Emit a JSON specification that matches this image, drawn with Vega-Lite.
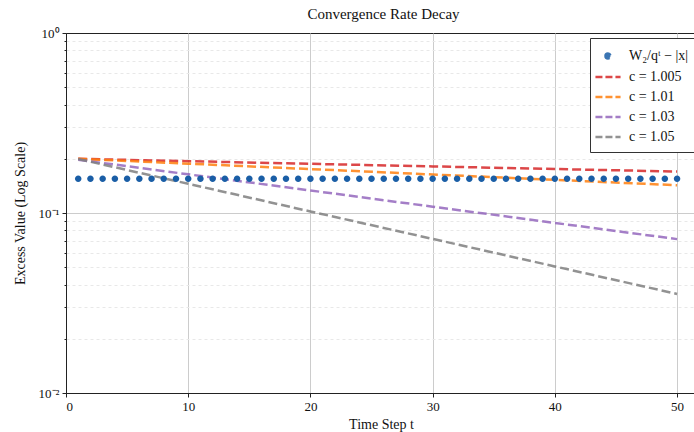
{
  "$schema": "https://vega.github.io/schema/vega-lite/v6.json",
  "width": 641,
  "height": 360,
  "autosize": {"type": "none"},
  "padding": {"left": 66, "top": 33, "right": 0, "bottom": 39},
  "background": "white",
  "title": {"text": "Convergence Rate Decay", "font": "Liberation Serif", "fontSize": 15, "fontWeight": "normal", "color": "#111", "dx": -3, "offset": 5},
  "config": {
    "view": {"stroke": "#222", "strokeWidth": 1},
    "axis": {"labelFont": "Liberation Serif", "titleFont": "Liberation Serif", "labelFontSize": 13, "titleFontSize": 14, "titleFontWeight": "normal", "labelColor": "#111", "titleColor": "#111", "domainColor": "#222", "tickColor": "#222"}
  },
  "datasets": {
    "pts": [
      {"t": 1, "v": 0.155, "s": "W₂/qᵗ − |x|"}, {"t": 2, "v": 0.155, "s": "W₂/qᵗ − |x|"}, {"t": 3, "v": 0.155, "s": "W₂/qᵗ − |x|"}, {"t": 4, "v": 0.155, "s": "W₂/qᵗ − |x|"}, {"t": 5, "v": 0.155, "s": "W₂/qᵗ − |x|"},
      {"t": 6, "v": 0.155, "s": "W₂/qᵗ − |x|"}, {"t": 7, "v": 0.155, "s": "W₂/qᵗ − |x|"}, {"t": 8, "v": 0.155, "s": "W₂/qᵗ − |x|"}, {"t": 9, "v": 0.155, "s": "W₂/qᵗ − |x|"}, {"t": 10, "v": 0.155, "s": "W₂/qᵗ − |x|"},
      {"t": 11, "v": 0.155, "s": "W₂/qᵗ − |x|"}, {"t": 12, "v": 0.155, "s": "W₂/qᵗ − |x|"}, {"t": 13, "v": 0.155, "s": "W₂/qᵗ − |x|"}, {"t": 14, "v": 0.155, "s": "W₂/qᵗ − |x|"}, {"t": 15, "v": 0.155, "s": "W₂/qᵗ − |x|"},
      {"t": 16, "v": 0.155, "s": "W₂/qᵗ − |x|"}, {"t": 17, "v": 0.155, "s": "W₂/qᵗ − |x|"}, {"t": 18, "v": 0.155, "s": "W₂/qᵗ − |x|"}, {"t": 19, "v": 0.155, "s": "W₂/qᵗ − |x|"}, {"t": 20, "v": 0.155, "s": "W₂/qᵗ − |x|"},
      {"t": 21, "v": 0.155, "s": "W₂/qᵗ − |x|"}, {"t": 22, "v": 0.155, "s": "W₂/qᵗ − |x|"}, {"t": 23, "v": 0.155, "s": "W₂/qᵗ − |x|"}, {"t": 24, "v": 0.155, "s": "W₂/qᵗ − |x|"}, {"t": 25, "v": 0.155, "s": "W₂/qᵗ − |x|"},
      {"t": 26, "v": 0.155, "s": "W₂/qᵗ − |x|"}, {"t": 27, "v": 0.155, "s": "W₂/qᵗ − |x|"}, {"t": 28, "v": 0.155, "s": "W₂/qᵗ − |x|"}, {"t": 29, "v": 0.155, "s": "W₂/qᵗ − |x|"}, {"t": 30, "v": 0.155, "s": "W₂/qᵗ − |x|"},
      {"t": 31, "v": 0.155, "s": "W₂/qᵗ − |x|"}, {"t": 32, "v": 0.155, "s": "W₂/qᵗ − |x|"}, {"t": 33, "v": 0.155, "s": "W₂/qᵗ − |x|"}, {"t": 34, "v": 0.155, "s": "W₂/qᵗ − |x|"}, {"t": 35, "v": 0.155, "s": "W₂/qᵗ − |x|"},
      {"t": 36, "v": 0.155, "s": "W₂/qᵗ − |x|"}, {"t": 37, "v": 0.155, "s": "W₂/qᵗ − |x|"}, {"t": 38, "v": 0.155, "s": "W₂/qᵗ − |x|"}, {"t": 39, "v": 0.155, "s": "W₂/qᵗ − |x|"}, {"t": 40, "v": 0.155, "s": "W₂/qᵗ − |x|"},
      {"t": 41, "v": 0.155, "s": "W₂/qᵗ − |x|"}, {"t": 42, "v": 0.155, "s": "W₂/qᵗ − |x|"}, {"t": 43, "v": 0.155, "s": "W₂/qᵗ − |x|"}, {"t": 44, "v": 0.155, "s": "W₂/qᵗ − |x|"}, {"t": 45, "v": 0.155, "s": "W₂/qᵗ − |x|"},
      {"t": 46, "v": 0.155, "s": "W₂/qᵗ − |x|"}, {"t": 47, "v": 0.155, "s": "W₂/qᵗ − |x|"}, {"t": 48, "v": 0.155, "s": "W₂/qᵗ − |x|"}, {"t": 49, "v": 0.155, "s": "W₂/qᵗ − |x|"}, {"t": 50, "v": 0.155, "s": "W₂/qᵗ − |x|"}
    ],
    "lines": [
      {"t": 1, "v": 0.2, "s": "c = 1.005"}, {"t": 10, "v": 0.194, "s": "c = 1.005"}, {"t": 20, "v": 0.1876, "s": "c = 1.005"}, {"t": 30, "v": 0.1815, "s": "c = 1.005"}, {"t": 40, "v": 0.1755, "s": "c = 1.005"}, {"t": 50, "v": 0.17, "s": "c = 1.005"},
      {"t": 1, "v": 0.2, "s": "c = 1.01"}, {"t": 10, "v": 0.188, "s": "c = 1.01"}, {"t": 20, "v": 0.1754, "s": "c = 1.01"}, {"t": 30, "v": 0.1637, "s": "c = 1.01"}, {"t": 40, "v": 0.1528, "s": "c = 1.01"}, {"t": 50, "v": 0.1426, "s": "c = 1.01"},
      {"t": 1, "v": 0.1977, "s": "c = 1.03"}, {"t": 10, "v": 0.164, "s": "c = 1.03"}, {"t": 20, "v": 0.1334, "s": "c = 1.03"}, {"t": 30, "v": 0.1084, "s": "c = 1.03"}, {"t": 40, "v": 0.0881, "s": "c = 1.03"}, {"t": 50, "v": 0.0716, "s": "c = 1.03"},
      {"t": 1, "v": 0.1995, "s": "c = 1.05"}, {"t": 10, "v": 0.1453, "s": "c = 1.05"}, {"t": 20, "v": 0.102, "s": "c = 1.05"}, {"t": 30, "v": 0.0718, "s": "c = 1.05"}, {"t": 40, "v": 0.0505, "s": "c = 1.05"}, {"t": 50, "v": 0.0355, "s": "c = 1.05"}
    ]
  },
  "encoding": {
    "x": {"field": "t", "type": "quantitative", "scale": {"domain": [0, 52.45], "nice": false, "zero": false},
      "axis": {"title": "Time Step t", "values": [0, 10, 20, 30, 40, 50], "grid": true, "gridColor": "#cccccc", "gridWidth": 1,
        "gridOpacity": {"condition": {"test": "datum.value == 0", "value": 0}, "value": 1},
        "tickSize": 4, "labelPadding": 3, "titleX": 315, "titlePadding": 4}},
    "y": {"field": "v", "type": "quantitative", "scale": {"type": "log", "domain": [0.01, 1], "nice": false},
      "axis": {"title": "Excess Value (Log Scale)", "titlePadding": 11,
        "values": [0.01, 0.02, 0.03, 0.04, 0.05, 0.06, 0.07, 0.08, 0.09, 0.1, 0.2, 0.3, 0.4, 0.5, 0.6, 0.7, 0.8, 0.9, 1],
        "labelExpr": "datum.value == 1 ? '10⁰' : (abs(datum.value - 0.1) < 1e-9 ? '10⁻¹' : (abs(datum.value - 0.01) < 1e-9 ? '10⁻²' : ''))",
        "grid": true,
        "gridColor": {"condition": {"test": "abs(datum.value - 0.1) < 1e-9", "value": "#cccccc"}, "value": "#e8e8e8"},
        "gridDash": {"condition": {"test": "abs(datum.value - 0.1) < 1e-9", "value": []}, "value": [3, 3]},
        "gridOpacity": {"condition": {"test": "datum.value == 1 || abs(datum.value - 0.01) < 1e-9", "value": 0}, "value": 1},
        "tickSize": {"condition": {"test": "abs(datum.value - 0.1) < 1e-9 || abs(datum.value - 0.01) < 1e-9 || datum.value == 1", "value": 4}, "value": 2},
        "labelPadding": 3}},
    "color": {"field": "s", "type": "nominal",
      "scale": {"domain": ["W₂/qᵗ − |x|", "c = 1.005", "c = 1.01", "c = 1.03", "c = 1.05"], "range": ["#1a5ea6", "#d62728", "#ff7f0e", "#9467bd", "#7f7f7f"]},
      "legend": {"title": null, "orient": "none", "legendX": 524, "legendY": 5, "padding": 8, "strokeColor": "#333", "fillColor": "white", "cornerRadius": 0,
        "labelFont": "Liberation Serif", "labelFontSize": 14, "labelColor": "#111", "rowPadding": 3, "symbolSize": 280, "symbolStrokeWidth": 2.5, "symbolDash": [7, 3], "labelOffset": 11}
    }
  },
  "layer": [
    {"data": {"name": "lines"}, "mark": {"type": "line", "strokeWidth": 2.5, "strokeDash": [9, 4], "opacity": 0.85, "clip": true}},
    {"data": {"name": "pts"}, "mark": {"type": "point", "filled": true, "size": 470, "opacity": 1},
      "encoding": {
        "shape": {"field": "s", "type": "nominal",
          "scale": {"domain": ["W₂/qᵗ − |x|", "c = 1.005", "c = 1.01", "c = 1.03", "c = 1.05"],
            "range": ["M-0.3,0A0.3,0.3 0 1,1 0.3,0A0.3,0.3 0 1,1 -0.3,0Z", "M-1.5,0H1.5", "M-1.5,0H1.5", "M-1.5,0H1.5", "M-1.5,0H1.5"]},
          "legend": {"title": null, "orient": "none", "legendX": 524, "legendY": 5, "padding": 8, "strokeColor": "#333", "fillColor": "white", "cornerRadius": 0,
            "labelFont": "Liberation Serif", "labelFontSize": 14, "labelColor": "#111", "rowPadding": 3, "symbolSize": 280, "symbolStrokeWidth": 2.5, "symbolDash": [7, 3], "labelOffset": 11}}
      }}
  ]
}
